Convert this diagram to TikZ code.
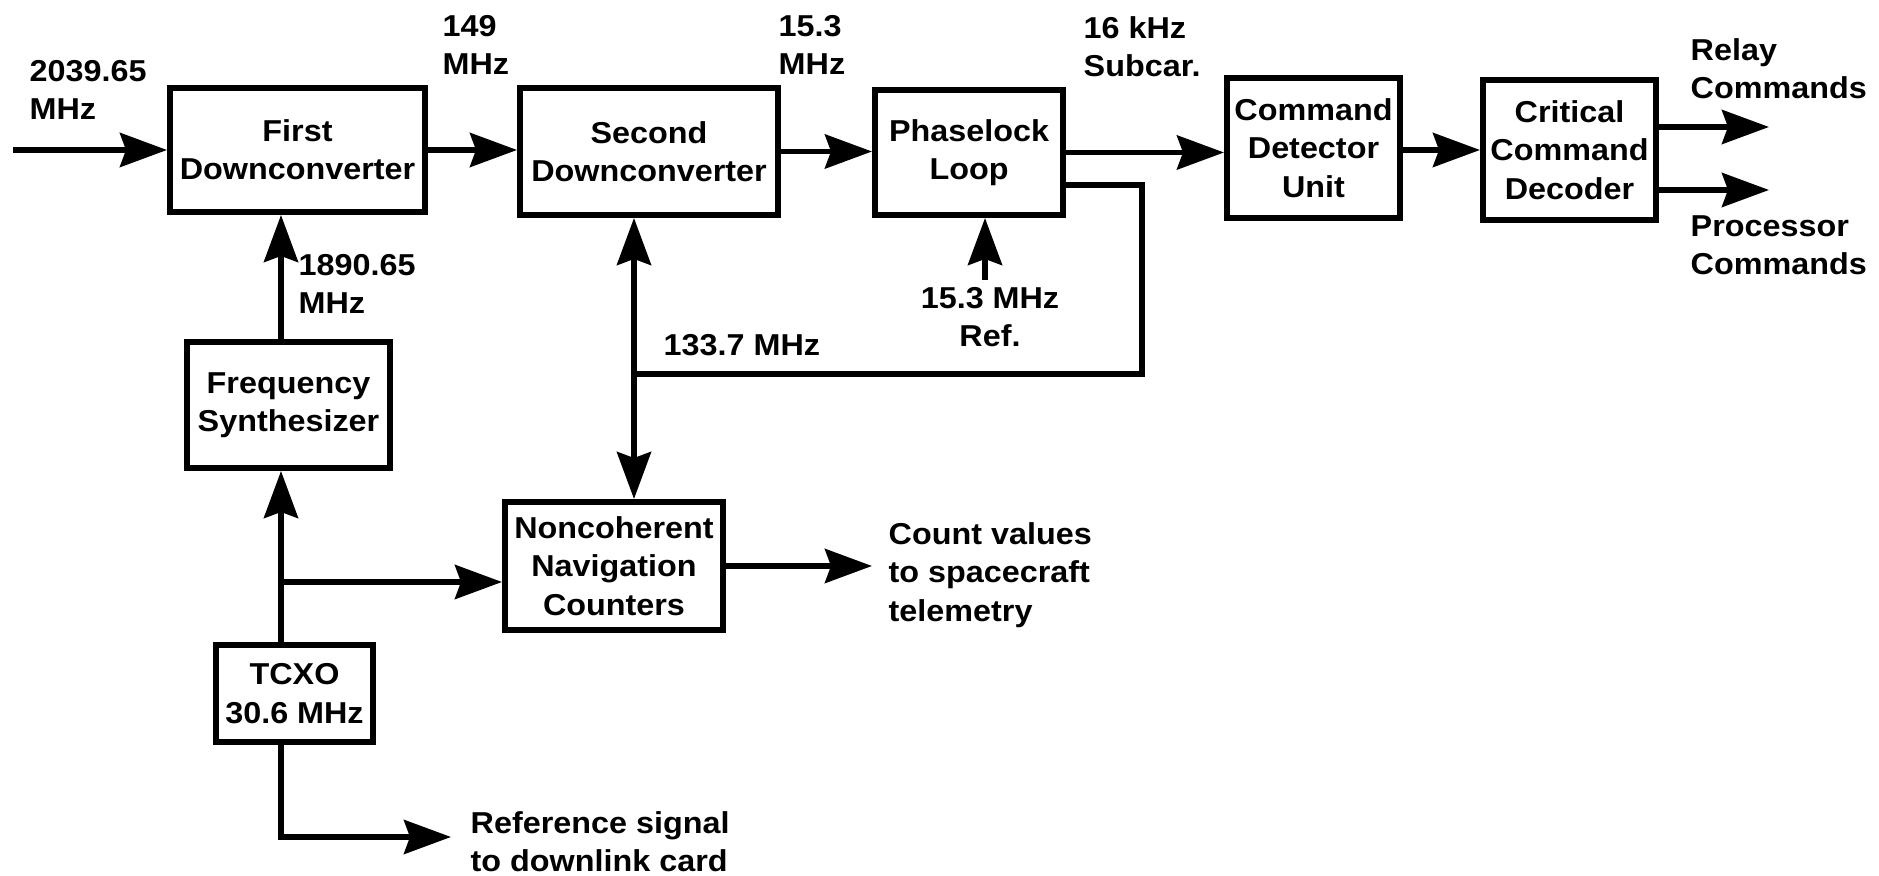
\documentclass[tikz,border=0pt]{standalone}
\usepackage{fontspec}
\setmainfont{Liberation Sans}[FakeStretch=1.07]
\usetikzlibrary{arrows.meta}

\begin{document}
\begin{tikzpicture}[
    >={Stealth[length=4.7mm, width=3.4mm, inset=0.6mm]},
    every node/.style={font=\bfseries\fontsize{8.6}{10.9}\selectfont},
    block/.style={
        draw,
        line width=1.7pt,
        align=center,
        inner sep=1pt
    },
    lbl/.style={
        inner sep=0pt,
        anchor=west,
        align=left
    },
    wire/.style={line width=1.6pt}
]
\useasboundingbox (0,0) rectangle (18.79,-8.76);

% Blocks of the receive chain (top row)
\node[block, minimum width=2.55cm, minimum height=1.24cm] (first)  at (2.975,-1.50)  {First\\Downconverter};
\node[block, minimum width=2.58cm, minimum height=1.27cm] (second) at (6.49,-1.515)  {Second\\Downconverter};
\node[block, minimum width=1.88cm, minimum height=1.25cm] (pll)    at (9.69,-1.525)  {Phaselock\\Loop};
\node[block, minimum width=1.73cm, minimum height=1.40cm] (cdu)    at (13.135,-1.48) {Command\\Detector\\Unit};
\node[block, minimum width=1.73cm, minimum height=1.40cm] (ccd)    at (15.695,-1.50) {Critical\\Command\\Decoder};

% Oscillator side
\node[block, minimum width=2.03cm, minimum height=1.26cm] (synth)  at (2.885,-4.05)  {Frequency\\Synthesizer};
\node[block, minimum width=2.18cm, minimum height=1.28cm] (noncoh) at (6.14,-5.66)   {Noncoherent\\Navigation\\Counters};
\node[block, minimum width=1.57cm, minimum height=0.97cm] (tcxo)   at (2.945,-6.935) {TCXO\\30.6 MHz};

% Free ends and corners
\coordinate (in)    at (0.13,-1.50);
\coordinate (relay) at (17.69,-1.27);
\coordinate (proc)  at (17.69,-1.90);
\coordinate (loopa) at (11.42,-1.85);
\coordinate (jn)    at (6.34,-3.74);
\coordinate (ref)   at (9.85,-2.80);
\coordinate (lo)    at (2.81,-5.82);
\coordinate (cnt)   at (8.72,-5.66);
\coordinate (dl)    at (4.51,-8.37);

% Signal labels
\node[lbl] (l2039)  at (0.29,-0.90)  {2039.65\\MHz};
\node[lbl] (l149)   at (4.42,-0.45)  {149\\MHz};
\node[lbl] (l153)   at (7.78,-0.45)  {15.3\\MHz};
\node[lbl] (l16k)   at (10.83,-0.47) {16 kHz\\Subcar.};
\node[lbl] (lrelay) at (16.90,-0.69) {Relay\\Commands};
\node[lbl] (lproc)  at (16.90,-2.45) {Processor\\Commands};
\node[lbl] (l1890)  at (2.98,-2.84)  {1890.65\\MHz};
\node[lbl] (l1337)  at (6.63,-3.45)  {133.7 MHz};
\node[inner sep=0pt, align=center] (lref) at (9.90,-3.17) {15.3 MHz\\Ref.};
\node[lbl] (lcnt)   at (8.88,-5.75)  {Count values\\to spacecraft\\telemetry};
\node[lbl] (ldl)    at (4.70,-8.42)  {Reference signal\\to downlink card};

% Main chain
\draw[->, wire] (in) -- (first.west);
\draw[->, wire] (first.east) -- (first.east -| second.west);
\draw[->, wire] (second.east) -- (second.east -| pll.west);
\draw[->, wire] (pll.east) -- (pll.east -| cdu.west);
\draw[->, wire] (cdu.east |- ccd.west) -- (ccd.west);
\draw[->, wire] (ccd.east |- relay) -- (relay);
\draw[->, wire] (ccd.east |- proc) -- (proc);

% 133.7 MHz loop back from the phaselock loop
\draw[wire] (pll.east |- loopa) -- (loopa) |- (jn);
\draw[<->, wire] (second.south -| jn) -- (noncoh.north -| jn);
\draw[->, wire] (ref) -- (ref |- pll.south);

% Oscillator feeds
\draw[->, wire] (synth.north -| lo) -- (first.south -| lo);
\draw[->, wire] (tcxo.north -| lo) -- (synth.south -| lo);
\draw[->, wire] (lo) -- (lo -| noncoh.west);
\draw[->, wire] (noncoh.east) -- (cnt);
\draw[->, wire] (tcxo.south -| lo) |- (dl);

\end{tikzpicture}
\end{document}
